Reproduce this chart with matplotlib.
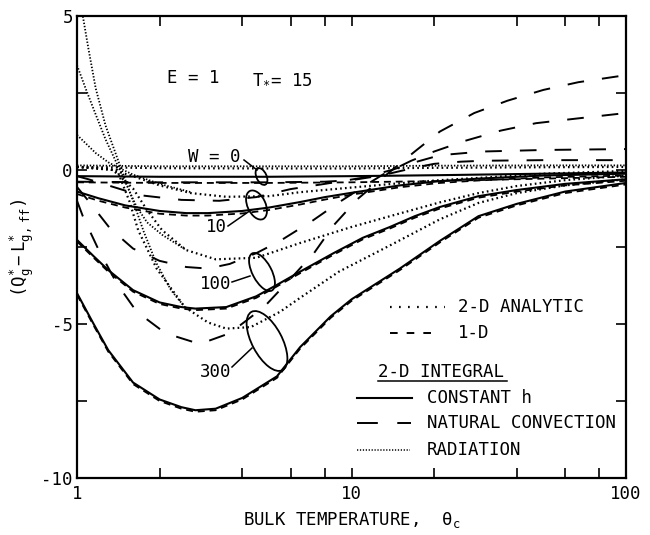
import matplotlib
matplotlib.use('Agg')
import matplotlib.pyplot as plt
from matplotlib.patches import Ellipse
from matplotlib.lines import Line2D
from matplotlib.ticker import FixedLocator, FixedFormatter, NullFormatter

plt.rcParams['font.family'] = ['DejaVu Sans Mono', 'DejaVu Sans']
plt.rcParams['mathtext.fontset'] = 'custom'
plt.rcParams['mathtext.rm'] = 'DejaVu Sans Mono'
plt.rcParams['mathtext.it'] = 'DejaVu Sans Mono'
plt.rcParams['mathtext.bf'] = 'DejaVu Sans Mono:bold'
plt.rcParams['lines.scale_dashes'] = False

# ---------------- data ----------------
# 2-D integral, constant h (solid)
ch0_x = [1, 2, 5, 10, 20, 50, 100]
ch0_y = [-0.2, -0.22, -0.22, -0.2, -0.17, -0.12, -0.08]
ch10_x = [1, 1.2, 1.5, 2, 2.5, 3, 4, 5, 6.5, 8, 10, 15, 21, 29, 50, 100]
ch10_y = [-0.7, -0.92, -1.15, -1.33, -1.4, -1.4, -1.33, -1.22, -1.04, -0.88, -0.74, -0.5, -0.36, -0.28, -0.18, -0.12]
ch100_x = [1, 1.15, 1.3, 1.6, 2, 2.4, 2.7, 3.5, 4.5, 5.3, 6.5, 8.6, 11, 13.8, 17, 21, 29, 40, 60, 100]
ch100_y = [-2.27, -2.8, -3.25, -3.9, -4.3, -4.45, -4.5, -4.45, -4.1, -3.75, -3.3, -2.7, -2.2, -1.85, -1.5, -1.2, -0.85, -0.65, -0.45, -0.3]
ch300_x = [1, 1.15, 1.3, 1.6, 2, 2.4, 2.7, 3.2, 4, 5.35, 6.5, 8.4, 10, 15, 21, 29, 40, 60, 100]
ch300_y = [-4.0, -5.0, -5.85, -6.9, -7.45, -7.7, -7.8, -7.75, -7.4, -6.7, -5.75, -4.75, -4.2, -3.2, -2.3, -1.5, -1.1, -0.7, -0.42]

# 1-D (short dashes)
od0_x = [1, 2, 5, 10, 20, 40, 100]
od0_y = [-0.4, -0.42, -0.42, -0.4, -0.36, -0.3, -0.22]
od10_x = [1, 1.2, 1.5, 2, 2.5, 3, 4, 5, 6.5, 8, 10, 15, 21, 29, 50, 100]
od10_y = [-0.78, -1.0, -1.22, -1.42, -1.48, -1.48, -1.41, -1.3, -1.12, -0.96, -0.8, -0.56, -0.42, -0.34, -0.24, -0.18]
od100_x = [1, 1.15, 1.3, 1.6, 2, 2.4, 2.7, 3.5, 4.5, 5.3, 6.5, 8.6, 11, 13.8, 17, 21, 29, 40, 60, 100]
od100_y = [-2.32, -2.85, -3.3, -3.95, -4.35, -4.5, -4.55, -4.5, -4.15, -3.8, -3.35, -2.75, -2.25, -1.9, -1.55, -1.25, -0.9, -0.7, -0.5, -0.35]
od300_x = [1, 1.15, 1.3, 1.6, 2, 2.4, 2.7, 3.2, 4, 5.35, 6.5, 8.4, 10, 15, 21, 29, 40, 60, 100]
od300_y = [-4.05, -5.05, -5.9, -6.95, -7.5, -7.75, -7.85, -7.8, -7.45, -6.75, -5.8, -4.8, -4.25, -3.25, -2.35, -1.55, -1.15, -0.75, -0.47]

# 2-D integral, natural convection (long dashes)
nc0_x = [1, 2, 5, 8, 10, 12, 14, 16, 18, 20, 25, 30, 50, 100]
nc0_y = [-0.38, -0.4, -0.4, -0.38, -0.33, -0.22, -0.1, 0.02, 0.12, 0.2, 0.27, 0.3, 0.32, 0.32]
nc10_x = [1, 1.1, 1.3, 1.7, 2.4, 3.3, 4.5, 6, 8, 11, 14, 17, 21, 30, 50, 100]
nc10_y = [-0.2, -0.3, -0.5, -0.82, -0.97, -1.0, -0.88, -0.62, -0.45, -0.25, 0.0, 0.25, 0.48, 0.6, 0.65, 0.68]
nc100_x = [1, 1.1, 1.32, 1.6, 2.0, 2.5, 3.0, 3.6, 4.5, 5.5, 7.2, 9, 11, 13, 16.5, 20, 26, 35, 47, 66, 100]
nc100_y = [-0.55, -1.0, -1.9, -2.55, -2.95, -3.15, -3.2, -3.05, -2.7, -2.3, -1.65, -1.05, -0.55, -0.15, 0.3, 0.6, 0.95, 1.28, 1.52, 1.67, 1.85]
nc300_x = [1, 1.05, 1.2, 1.4, 1.65, 2.1, 2.8, 3.6, 4.8, 5.9, 7.3, 8.6, 10.5, 13.2, 17, 21, 28, 37, 50, 67, 100]
nc300_y = [-1.0, -1.5, -2.6, -3.7, -4.6, -5.3, -5.65, -5.3, -4.45, -3.6, -2.7, -1.8, -0.95, -0.2, 0.6, 1.25, 1.85, 2.25, 2.6, 2.85, 3.08]

# 2-D analytic (spaced dots)
an0_x = [1, 2, 5, 10, 20, 50, 100]
an0_y = [0.1, 0.06, 0.05, 0.05, 0.07, 0.09, 0.1]
an10_x = [1, 1.3, 1.6, 2.0, 2.6, 3.5, 5, 6.5, 10, 15, 21, 30, 50, 100]
an10_y = [0.1, 0.04, -0.2, -0.5, -0.75, -0.87, -0.85, -0.72, -0.57, -0.43, -0.33, -0.25, -0.12, -0.03]
an100_x = [1, 1.35, 1.6, 1.8, 2.04, 2.5, 3.2, 4.5, 6.5, 10, 13.8, 21, 29, 40, 60, 100]
an100_y = [0.1, 0.0, -0.6, -1.3, -1.95, -2.6, -2.9, -2.85, -2.37, -1.85, -1.5, -1.05, -0.75, -0.52, -0.33, -0.18]
an300_x = [1, 1.4, 1.55, 1.67, 1.95, 2.47, 3.0, 3.5, 4.3, 5.5, 6.5, 9, 13.8, 21, 29, 40, 60, 100]
an300_y = [0.1, 0.0, -1.0, -1.95, -3.2, -4.45, -4.95, -5.15, -5.1, -4.6, -4.15, -3.3, -2.45, -1.6, -1.07, -0.75, -0.5, -0.3]

# 2-D integral, radiation (fine dots)
rd0_x = [1, 2, 5, 10, 20, 50, 100]
rd0_y = [0.15, 0.12, 0.12, 0.12, 0.14, 0.15, 0.15]
rd10_x = [1, 1.17, 1.3, 1.42, 1.6, 2.0, 2.6]
rd10_y = [1.14, 0.55, 0.25, 0.07, -0.15, -0.45, -0.72]
rd100_x = [1, 1.08, 1.17, 1.27, 1.39, 1.5, 1.65, 1.8, 2.04, 2.5]
rd100_y = [3.4, 2.6, 1.8, 1.0, 0.25, -0.4, -1.2, -1.7, -2.1, -2.6]
rd300_x = [1.03, 1.05, 1.1, 1.17, 1.27, 1.42, 1.6, 1.75, 1.94, 2.2, 2.47]
rd300_y = [5.5, 5.0, 3.95, 2.65, 1.45, 0.25, -1.0, -2.0, -3.0, -3.9, -4.45]

x_ticks = [1, 10, 100]
x_tick_labels = ['1', '10', '100']
x_minor = [2, 4, 6, 8, 20, 40, 60, 80]
y_ticks = [-10, -5, 0, 5]
y_tick_labels = ['-10', '-5', '0', '5']
y_minor = [-7.5, -2.5, 2.5]

W_labels = ['W = 0', '10', '100', '300']

# ---------------- styles ----------------
FS = 12.5
S_SOLID = dict(color='black', lw=1.5, linestyle='-')
S_1D = dict(color='black', lw=1.3, linestyle=(0, (5, 3.5)))
S_NC = dict(color='black', lw=1.4, linestyle=(0, (12, 13)))
S_AN = dict(color='black', lw=1.6, linestyle=(0, (1.2, 2.3)))
S_RD = dict(color='black', lw=1.3, linestyle=(0, (1.0, 1.3)))

fig = plt.figure(figsize=(6.5, 5.35), dpi=100)
ax = fig.add_axes([77 / 650, 57 / 535, 549 / 650, 462 / 535])
ax.set_xscale('log')

for xs, ys in [(ch0_x, ch0_y), (ch10_x, ch10_y), (ch100_x, ch100_y), (ch300_x, ch300_y)]:
    ax.plot(xs, ys, **S_SOLID)
for xs, ys in [(od0_x, od0_y), (od10_x, od10_y), (od100_x, od100_y), (od300_x, od300_y)]:
    ax.plot(xs, ys, **S_1D)
for xs, ys in [(nc0_x, nc0_y), (nc10_x, nc10_y), (nc100_x, nc100_y), (nc300_x, nc300_y)]:
    ax.plot(xs, ys, **S_NC)
for xs, ys in [(an0_x, an0_y), (an10_x, an10_y), (an100_x, an100_y), (an300_x, an300_y)]:
    ax.plot(xs, ys, **S_AN)
for xs, ys in [(rd0_x, rd0_y), (rd10_x, rd10_y), (rd100_x, rd100_y), (rd300_x, rd300_y)]:
    ax.plot(xs, ys, **S_RD)

ax.set_xlim(1, 100)
ax.set_ylim(-10, 5)
ax.xaxis.set_major_locator(FixedLocator(x_ticks))
ax.xaxis.set_major_formatter(FixedFormatter(x_tick_labels))
ax.xaxis.set_minor_locator(FixedLocator(x_minor))
ax.xaxis.set_minor_formatter(NullFormatter())
ax.yaxis.set_major_locator(FixedLocator(y_ticks))
ax.yaxis.set_major_formatter(FixedFormatter(y_tick_labels))
ax.yaxis.set_minor_locator(FixedLocator(y_minor))
ax.yaxis.set_minor_formatter(NullFormatter())
ax.tick_params(which='both', direction='in', top=True, right=True, width=1.2,
               length=7.5, labelsize=FS)
ax.tick_params(axis='x', which='major', pad=5)
ax.tick_params(axis='y', which='major', pad=3)
for sp in ax.spines.values():
    sp.set_linewidth(1.6)

# ---------------- overlay in pixel coordinates ----------------
ov = fig.add_axes([0, 0, 1, 1])
ov.set_xlim(0, 650)
ov.set_ylim(535, 0)
ov.axis('off')
ov.patch.set_alpha(0)

ov.text(167, 78, 'E = 1', fontsize=FS, ha='left', va='center')
ov.text(252, 78, r'$\mathrm{T}_{*}$= 15', fontsize=FS, ha='left', va='center')

# W labels, leader lines and ellipses
lab_pos = [(188, 157, 'left'), (227, 227, 'right'), (231, 284, 'right'), (231, 372, 'right')]
leaders = [((244, 160), (257, 170)), ((228, 226), (251, 210)),
           ((232, 282), (250, 276)), ((232, 367), (252, 348))]
ells = [((261.5, 176.5), 18, 10, 65), ((256.5, 205), 31, 18, 65),
        ((262, 272), 42, 19, 62), ((267, 341), 66, 30, 62)]
for (lx, ly, ha), txt, (p0, p1), (c, w, h, a) in zip(lab_pos, W_labels, leaders, ells):
    ov.text(lx, ly, txt, fontsize=FS, ha=ha, va='center')
    ov.plot([p0[0], p1[0]], [p0[1], p1[1]], color='black', lw=1.1)
    ov.add_patch(Ellipse(c, w, h, angle=a, fill=False, ec='black', lw=1.3))

# legend
ov.add_line(Line2D([390, 445], [307, 307], color='black', lw=1.6, linestyle=(0, (1.2, 5.3))))
ov.text(458, 307, '2-D ANALYTIC', fontsize=FS, ha='left', va='center')
ov.add_line(Line2D([390, 436], [333, 333], color='black', lw=1.4, linestyle=(0, (5.5, 6.5))))
ov.text(458, 333, '1-D', fontsize=FS, ha='left', va='center')
ov.text(378, 372, '2-D INTEGRAL', fontsize=FS, ha='left', va='center')
ov.add_line(Line2D([378, 507], [381, 381], color='black', lw=1.1))
ov.add_line(Line2D([357, 412], [398, 398], **S_SOLID))
ov.text(427, 398, 'CONSTANT h', fontsize=FS, ha='left', va='center')
ov.add_line(Line2D([357, 411], [423, 423], color='black', lw=1.4, linestyle=(0, (15, 14))))
ov.text(427, 423, 'NATURAL CONVECTION', fontsize=FS, ha='left', va='center')
ov.add_line(Line2D([357, 410], [450, 450], color='black', lw=1.1, linestyle=(0, (0.9, 1.2))))
ov.text(427, 450, 'RADIATION', fontsize=FS, ha='left', va='center')

# axis titles
ov.text(352, 520, r'BULK TEMPERATURE,  $\theta_\mathrm{c}$', fontsize=FS, ha='center', va='center')
ov.text(22, 248, r'$(\mathrm{Q}^{*}_{g}-\,\mathrm{L}^{*}_{g,\ ff})$', fontsize=FS,
        ha='center', va='center', rotation=90)

fig.savefig('out.png', dpi=100)
